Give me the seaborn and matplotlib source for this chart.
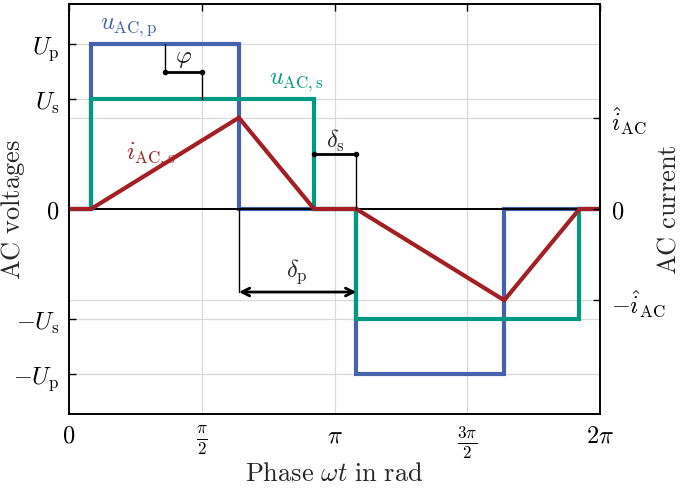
import numpy as np
import pandas as pd
import matplotlib
matplotlib.use("Agg")
import matplotlib.pyplot as plt
import seaborn as sns

sns.set_theme(style="white")
plt.rcParams["mathtext.fontset"] = "cm"
plt.rcParams["font.family"] = ["DejaVu Serif"]
plt.rcParams["axes.unicode_minus"] = True

TWO_PI = 2 * np.pi

# --- data (phase in rad, normalised amplitudes) ---
U_p = 1.5
U_s = 1.0
i_hat = 0.83

up_x = [0, 0.26, 0.26, 2.01, 2.01, 3.40, 3.40, 5.15, 5.15, TWO_PI]
up_y = [0, 0, U_p, U_p, 0, 0, -U_p, -U_p, 0, 0]

us_x = [0, 0.26, 0.26, 2.90, 2.90, 3.40, 3.40, 6.04, 6.04, TWO_PI]
us_y = [0, 0, U_s, U_s, 0, 0, -U_s, -U_s, 0, 0]

is_x = [0, 0.26, 2.01, 2.90, 3.40, 5.15, 6.04, TWO_PI]
is_y = [0, 0, i_hat, 0, 0, -i_hat, 0, 0]

xtick_vals = [0, np.pi / 2, np.pi, 3 * np.pi / 2, TWO_PI]
xtick_labels = [r"$0$", r"$\frac{\pi}{2}$", r"$\pi$", r"$\frac{3\pi}{2}$", r"$2\pi$"]
ytick_vals = [-U_p, -U_s, 0, U_s, U_p]
ytick_labels = [r"$-U_\mathrm{p}$", r"$-U_\mathrm{s}$", r"$0$", r"$U_\mathrm{s}$", r"$U_\mathrm{p}$"]
ytick2_vals = [-i_hat, 0, i_hat]
ytick2_labels = [r"$-\hat{i}_\mathrm{AC}$", r"$0$", r"$\hat{i}_\mathrm{AC}$"]

c_blue = "#4563ac"
c_green = "#009982"
c_red = "#a31f24"

fig = plt.figure(figsize=(6.89, 4.89), dpi=100)
ax = fig.add_axes([69 / 689, 1 - 415 / 489, (600 - 69) / 689, (415 - 5) / 489])
ylim = (-1.864, 1.864)
ax.set_xlim(0, TWO_PI)
ax.set_ylim(*ylim)

# grid
for xv in xtick_vals[1:-1]:
    ax.axvline(xv, color="#d9d9d9", lw=0.9, zorder=0)
for yv in [-U_p, -U_s, -i_hat, i_hat, U_s, U_p]:
    ax.axhline(yv, color="#d9d9d9", lw=0.9, zorder=0)

lw = 3.0
sns.lineplot(x=up_x, y=up_y, sort=False, estimator=None, color=c_blue, lw=lw, ax=ax, zorder=2)
sns.lineplot(x=us_x, y=us_y, sort=False, estimator=None, color=c_green, lw=lw, ax=ax, zorder=3)
ax.axhline(0, color="black", lw=1.4, zorder=4)
sns.lineplot(x=is_x, y=is_y, sort=False, estimator=None, color=c_red, lw=lw, ax=ax, zorder=5)
for ln in ax.lines:
    ln.set_solid_joinstyle("miter")
    ln.set_solid_capstyle("butt")

fs_lab = 19
fs_tick = 17.5
fs_txt = 17.5
# labels for curves
ax.text(0.71, 1.66, r"$u_\mathrm{AC,p}$", color=c_blue, fontsize=fs_txt, ha="center", va="center")
ax.text(2.69, 1.16, r"$u_\mathrm{AC,s}$", color=c_green, fontsize=fs_txt, ha="center", va="center")
ax.text(0.96, 0.50, r"$i_\mathrm{AC,s}$", color=c_red, fontsize=fs_txt, ha="center", va="center")

# phi annotation
phi_y = 1.245
ax.plot([1.136, 1.136], [U_p, phi_y], color="black", lw=1.0, zorder=6)
ax.plot([1.574, 1.574], [phi_y, U_s], color="black", lw=1.0, zorder=6)
ax.plot([1.136, 1.574], [phi_y, phi_y], color="black", lw=2.0, marker="o", ms=3, zorder=6)
ax.text(1.355, 1.38, r"$\varphi$", fontsize=fs_txt, ha="center", va="center")

# delta_s annotation
ds_y = 0.50
ax.plot([3.40, 3.40], [ds_y, 0], color="black", lw=1.0, zorder=6)
ax.plot([2.90, 3.40], [ds_y, ds_y], color="black", lw=2.0, marker="o", ms=3, zorder=6)
ax.text(3.15, 0.63, r"$\delta_\mathrm{s}$", fontsize=fs_txt, ha="center", va="center")

# delta_p annotation
dp_y = -0.755
ax.plot([2.01, 2.01], [0, dp_y], color="black", lw=1.0, zorder=6)
ax.plot([3.40, 3.40], [0, dp_y], color="black", lw=1.0, zorder=1)
ax.annotate("", xy=(2.01, dp_y), xytext=(3.40, dp_y),
            arrowprops=dict(arrowstyle="<->", color="black", lw=2.0,
                            shrinkA=0, shrinkB=0, mutation_scale=14), zorder=6)
ax.text(2.70, -0.56, r"$\delta_\mathrm{p}$", fontsize=fs_txt, ha="center", va="center")

# axes styling
ax.set_xticks(xtick_vals)
ax.set_xticklabels(xtick_labels, fontsize=fs_tick)
ax.set_yticks(ytick_vals)
ax.set_yticklabels(ytick_labels, fontsize=fs_tick)
ax.tick_params(direction="in", length=5, width=1.0, top=True, right=False, colors="black", pad=7)
ax.set_xlabel(r"$\mathrm{Phase}\ \omega t\ \mathrm{in\ rad}$", fontsize=fs_lab, labelpad=0)
ax.set_ylabel(r"$\mathrm{AC\ voltages}$", fontsize=fs_lab, labelpad=0)
ax.yaxis.set_label_coords(-(69 - 27) / 531, 0.5)
for sp in ax.spines.values():
    sp.set_color("black")
    sp.set_linewidth(1.2)

ax2 = ax.twinx()
ax2.set_ylim(*ylim)
ax2.set_yticks(ytick2_vals)
ax2.set_yticklabels(ytick2_labels, fontsize=fs_tick)
ax2.tick_params(direction="in", length=5, width=1.0, colors="black", pad=8)
ax2.set_ylabel(r"$\mathrm{AC\ current}$", fontsize=fs_lab)
ax2.yaxis.set_label_coords(1 + (655 - 600) / 531, 0.5)
for sp in ax2.spines.values():
    sp.set_color("black")
    sp.set_linewidth(1.2)

fig.savefig("out.png", dpi=100)
